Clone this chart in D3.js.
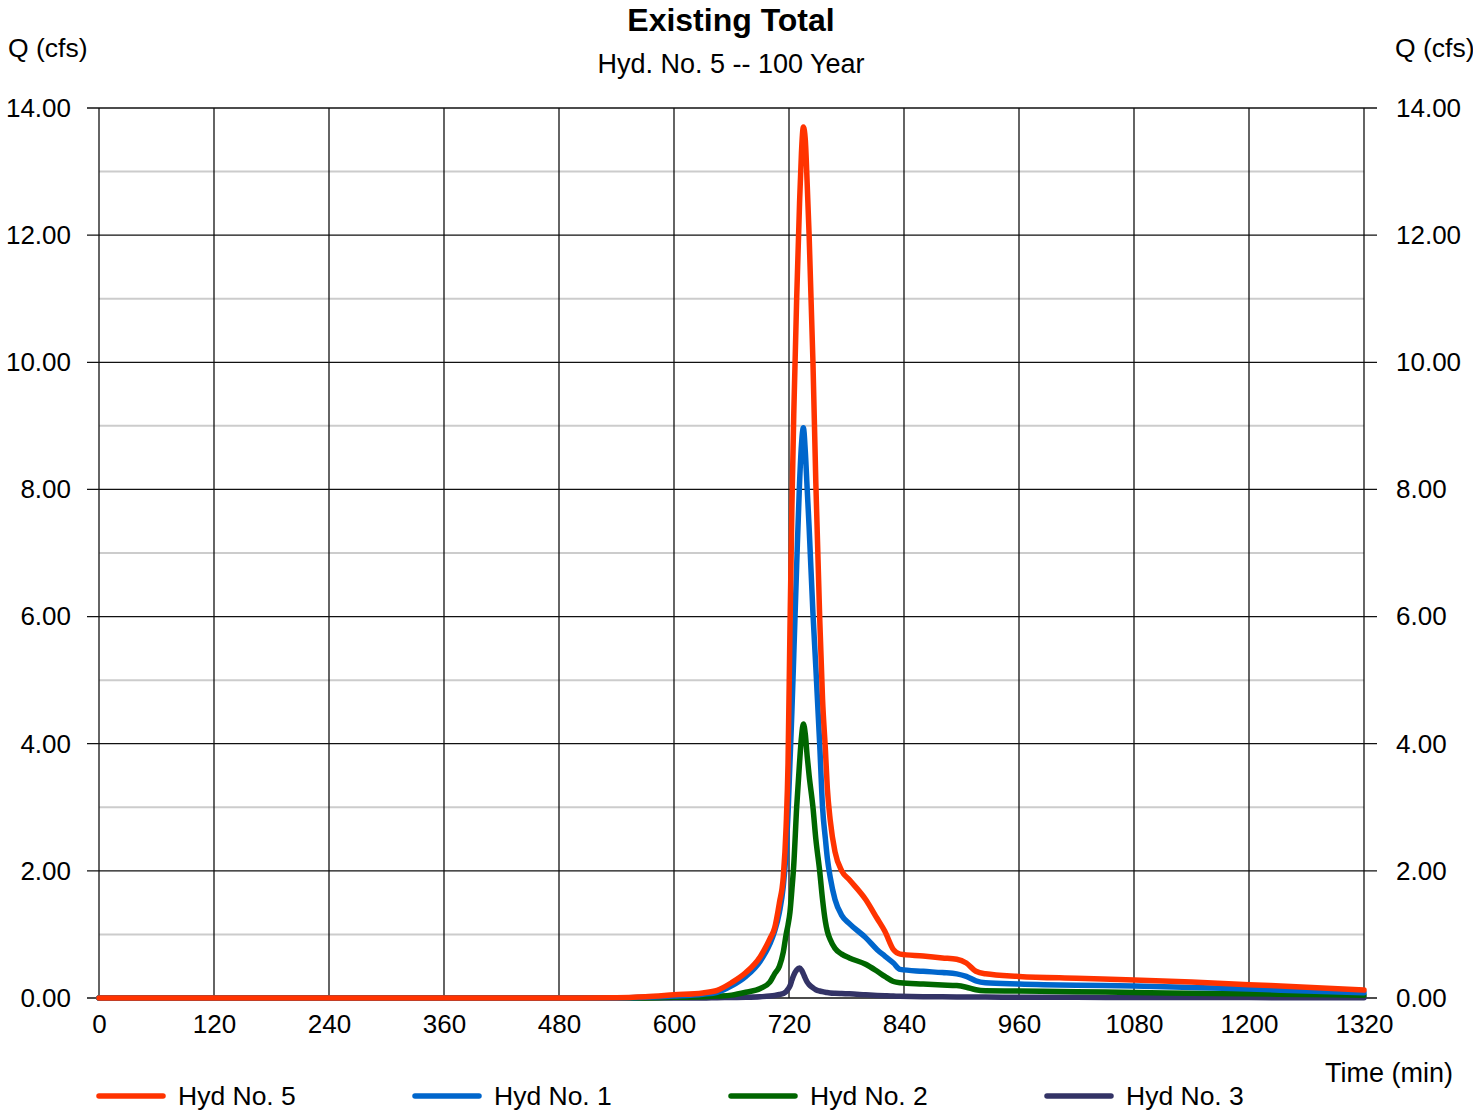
<!DOCTYPE html>
<html>
<head>
<meta charset="utf-8">
<script src="https://cdn.jsdelivr.net/npm/d3@7"></script>
<style>
  html, body { margin: 0; padding: 0; background: #fff; }
  text { font-family: "Liberation Sans", Arial, sans-serif; fill: #000; }
</style>
</head>
<body>
<svg id="chart" width="1473" height="1114"></svg>
<script>
// ---- Data ----
const times = [0, 480, 540, 570, 600, 630, 645, 660, 675, 690,
  700, 705, 710, 714, 717, 719, 721, 723, 725, 728,
  731, 733, 735, 737, 739, 741, 745, 748, 752, 755,
  758, 760, 763, 768, 775, 783, 800, 812, 820, 829,
  836, 860, 880, 895, 905, 915, 925, 960, 1020, 1080,
  1140, 1200, 1260, 1320];

const hyd5 = [0, 0, 0.005, 0.02, 0.05, 0.08, 0.12, 0.24, 0.40, 0.65,
  0.93, 1.1, 1.5, 1.9, 2.7, 3.7, 5.8, 7.7, 9.2, 11.0,
  12.5, 13.3, 13.7, 13.5, 12.8, 12.0, 10.0, 8.1, 6.0, 4.7,
  3.9, 3.3, 2.8, 2.3, 2.0, 1.86, 1.55, 1.25, 1.05, 0.76,
  0.69, 0.66, 0.63, 0.61, 0.55, 0.42, 0.38, 0.34, 0.31, 0.285,
  0.25, 0.21, 0.17, 0.125];

const hyd1 = [0, 0, 0, 0.01, 0.03, 0.06, 0.09, 0.19, 0.34, 0.58,
  0.85, 1.05, 1.35, 1.75, 2.3, 2.9, 3.7, 4.5, 5.4, 6.8,
  8.1, 8.7, 8.97, 8.6, 8.0, 7.4, 6.05, 5.2, 4.0, 3.0,
  2.5, 2.2, 1.9, 1.55, 1.3, 1.17, 0.95, 0.76, 0.66, 0.55,
  0.45, 0.42, 0.40, 0.38, 0.34, 0.27, 0.24, 0.22, 0.20, 0.19,
  0.165, 0.14, 0.11, 0.083];

const hyd2 = [0, 0, 0, 0, 0.01, 0.02, 0.03, 0.045, 0.09, 0.15,
  0.25, 0.38, 0.5, 0.72, 1.0, 1.15, 1.35, 1.7, 2.1, 3.0,
  3.7, 4.1, 4.31, 4.15, 3.8, 3.5, 3.0, 2.5, 2.0, 1.55,
  1.2, 1.05, 0.92, 0.78, 0.69, 0.63, 0.53, 0.42, 0.34, 0.26,
  0.24, 0.22, 0.205, 0.195, 0.17, 0.13, 0.115, 0.11, 0.10, 0.085,
  0.075, 0.065, 0.055, 0.045];

const hyd3 = [0, 0, 0, 0, 0, 0, 0.005, 0.008, 0.012, 0.02,
  0.03, 0.04, 0.055, 0.07, 0.1, 0.14, 0.19, 0.28, 0.36, 0.44,
  0.47, 0.44, 0.38, 0.31, 0.25, 0.21, 0.16, 0.13, 0.11, 0.1,
  0.09, 0.085, 0.08, 0.075, 0.07, 0.065, 0.05, 0.04, 0.035, 0.03,
  0.028, 0.02, 0.018, 0.017, 0.016, 0.015, 0.014, 0.012, 0.01, 0.008,
  0.007, 0.006, 0.005, 0.005];

const seriesNames = ["Hyd No. 5", "Hyd No. 1", "Hyd No. 2", "Hyd No. 3"];
const seriesValues = [hyd5, hyd1, hyd2, hyd3];
const seriesColors = ["#FF3300", "#0066CC", "#006600", "#333366"];

const xTicks = [0, 120, 240, 360, 480, 600, 720, 840, 960, 1080, 1200, 1320];
const yMajorTicks = [0, 2, 4, 6, 8, 10, 12, 14];
const yMinorTicks = [1, 3, 5, 7, 9, 11, 13];

const titleText = "Existing Total";
const subtitleText = "Hyd. No. 5 -- 100 Year";
const yLabel = "Q (cfs)";
const xLabel = "Time (min)";

// ---- Layout ----
(function () {
const svg = d3.select("#chart");
const pL = 99, pR = 1364, pT = 108, pB = 998;
const x = d3.scaleLinear().domain([0, 1320]).range([pL, pR]);
const y = d3.scaleLinear().domain([0, 14]).range([pB, pT]);
const fs = 26.5;
const tfs = 26;

// minor gridlines
svg.append("g").selectAll("line").data(yMinorTicks).join("line")
  .attr("x1", pL).attr("x2", pR)
  .attr("y1", d => y(d)).attr("y2", d => y(d))
  .attr("stroke", "#cccccc").attr("stroke-width", 2);

// vertical gridlines
svg.append("g").selectAll("line").data(xTicks).join("line")
  .attr("x1", d => x(d)).attr("x2", d => x(d))
  .attr("y1", pT).attr("y2", pB)
  .attr("stroke", "#111").attr("stroke-width", 1.3);

// major horizontal gridlines (with tick stubs on both sides)
svg.append("g").selectAll("line").data(yMajorTicks).join("line")
  .attr("x1", pL - 12).attr("x2", pR + 13)
  .attr("y1", d => y(d)).attr("y2", d => y(d))
  .attr("stroke", "#111").attr("stroke-width", 1.3);

// axis labels via d3 axes (text only)
const yAxisL = d3.axisLeft(y).tickValues(yMajorTicks).tickFormat(d3.format(".2f")).tickSize(0).tickPadding(28);
const gL = svg.append("g").attr("transform", `translate(${pL},0)`).call(yAxisL);
const yAxisR = d3.axisRight(y).tickValues(yMajorTicks).tickFormat(d3.format(".2f")).tickSize(0).tickPadding(32);
const gR = svg.append("g").attr("transform", `translate(${pR},0)`).call(yAxisR);
const xAxis = d3.axisBottom(x).tickValues(xTicks).tickFormat(d3.format("d")).tickSize(0).tickPadding(17);
const gX = svg.append("g").attr("transform", `translate(0,${pB})`).call(xAxis);
[gL, gR, gX].forEach(g => {
  g.select(".domain").remove();
  g.selectAll("text").attr("font-size", tfs).attr("font-family", "Liberation Sans, Arial, sans-serif").attr("fill", "#000");
});

// lines (draw in reverse so Hyd No. 5 is on top)
const line = d3.line()
  .x((d, i) => x(times[i]))
  .y(d => y(d))
  .curve(d3.curveMonotoneX);

const order = [3, 2, 1, 0];
svg.append("g").selectAll("path").data(order).join("path")
  .attr("d", k => line(seriesValues[k]))
  .attr("fill", "none")
  .attr("stroke", k => seriesColors[k])
  .attr("stroke-width", 5.5)
  .attr("stroke-linejoin", "round")
  .attr("stroke-linecap", "round");

// titles
svg.append("text").attr("x", 731).attr("y", 31).attr("text-anchor", "middle")
  .attr("font-size", 32).attr("font-weight", "bold").text(titleText);
svg.append("text").attr("x", 731).attr("y", 73).attr("text-anchor", "middle")
  .attr("font-size", 27).text(subtitleText);
svg.append("text").attr("x", 8).attr("y", 57).attr("font-size", fs).text(yLabel);
svg.append("text").attr("x", 1395).attr("y", 57).attr("font-size", fs).text(yLabel);
svg.append("text").attr("x", 1453).attr("y", 1082).attr("text-anchor", "end")
  .attr("font-size", 27).text(xLabel);

// legend
const legendX = [99, 415, 731, 1047];
const lg = svg.append("g").selectAll("g").data(seriesNames).join("g")
  .attr("transform", (d, i) => `translate(${legendX[i]},1096)`);
lg.append("line").attr("x1", 0).attr("x2", 64).attr("y1", 0).attr("y2", 0)
  .attr("stroke", (d, i) => seriesColors[i]).attr("stroke-width", 5.5).attr("stroke-linecap", "round");
lg.append("text").attr("x", 79).attr("y", 9).attr("font-size", fs).text(d => d);
})();
</script>
</body>
</html>
